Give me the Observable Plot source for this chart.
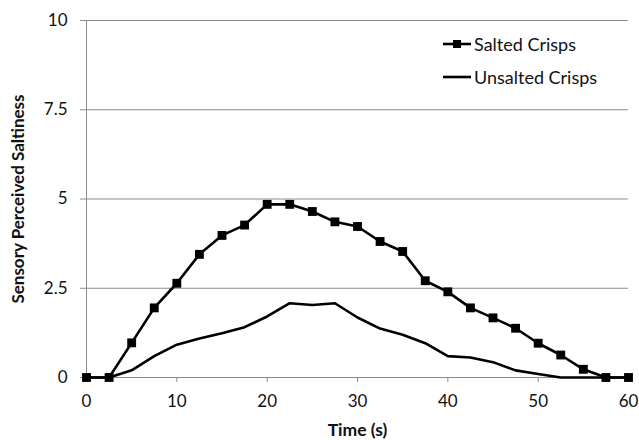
<!DOCTYPE html>
<html>
<head>
<meta charset="utf-8">
<script src="https://cdn.jsdelivr.net/npm/d3@7"></script>
<script src="https://cdn.jsdelivr.net/npm/@observablehq/plot@0.6"></script>
<style>
  body { margin: 0; background: #fff; }
  #wrap { position: relative; width: 639px; height: 440px; font-family: Lato, "Open Sans", sans-serif; }
  #legend { position: absolute; left: 443px; top: 27px; font-size: 18px; color: #111; }
  #legend div { display: flex; align-items: center; height: 33px; }
  #legend svg { margin-right: 3px; }
</style>
</head>
<body>
<div id="wrap"></div>
<script>
const time = [0, 2.5, 5, 7.5, 10, 12.5, 15, 17.5, 20, 22.5, 25, 27.5, 30, 32.5, 35, 37.5, 40, 42.5, 45, 47.5, 50, 52.5, 55, 57.5, 60];
const salted = [0, 0, 0.97, 1.95, 2.64, 3.45, 3.98, 4.27, 4.85, 4.85, 4.65, 4.36, 4.23, 3.81, 3.53, 2.71, 2.4, 1.95, 1.67, 1.38, 0.96, 0.63, 0.23, 0, 0];
const unsalted = [0, 0, 0.2, 0.6, 0.92, 1.09, 1.24, 1.41, 1.71, 2.08, 2.03, 2.08, 1.68, 1.37, 1.2, 0.96, 0.6, 0.56, 0.43, 0.2, 0.1, 0, 0, 0, 0];
const xTicks = [0, 10, 20, 30, 40, 50, 60];
const yTicks = [0, 2.5, 5, 7.5, 10];
const seriesNames = ["Salted Crisps", "Unsalted Crisps"];

const saltedData = time.map((t, i) => ({t, v: salted[i]}));
const unsaltedData = time.map((t, i) => ({t, v: unsalted[i]}));

const grey = "#8c8c8c";
const chart = Plot.plot({
  width: 639,
  height: 440,
  marginLeft: 86,
  marginRight: 11,
  marginTop: 20,
  marginBottom: 63,
  style: {fontFamily: "Lato, 'Open Sans', sans-serif", fontSize: "17px", color: "#111", background: "#fff"},
  x: {domain: [0, 60], label: null},
  y: {domain: [0, 10], label: null},
  marks: [
    Plot.gridY(yTicks, {stroke: grey, strokeOpacity: 1, strokeWidth: 1}),
    Plot.ruleX([0], {stroke: grey, strokeWidth: 1}),
    Plot.ruleY([0], {stroke: grey, strokeWidth: 1}),
    Plot.axisY(yTicks, {tickSize: 6, tickPadding: 13, stroke: grey, fill: "#111", fontSize: 17, tickFormat: d => String(d)}),
    Plot.axisX(xTicks, {tickSize: 5, tickPadding: 12, stroke: grey, fill: "#111", fontSize: 17, tickFormat: d => String(d)}),
    Plot.line(unsaltedData, {x: "t", y: "v", stroke: "#000", strokeWidth: 2.6}),
    Plot.line(saltedData, {x: "t", y: "v", stroke: "#000", strokeWidth: 2.6}),
    Plot.dot(saltedData, {x: "t", y: "v", symbol: "square", r: 5, fill: "#000", stroke: "none"}),
    Plot.text(["Time (s)"], {frameAnchor: "bottom", dy: 58, fontWeight: "bold", fontSize: 17.5, fill: "#111"}),
    Plot.text(["Sensory Perceived Saltiness"], {frameAnchor: "left", textAnchor: "middle", dx: -68, rotate: -90, fontWeight: "bold", fontSize: 17, fill: "#111"})
  ]
});

const wrap = document.getElementById("wrap");
wrap.appendChild(chart);

const legend = document.createElement("div");
legend.id = "legend";
legend.innerHTML = `
  <div><svg width="28" height="10"><line x1="0" y1="5" x2="28" y2="5" stroke="#000" stroke-width="2.6"/><rect x="10" y="1" width="8" height="8" fill="#000"/></svg><span>${seriesNames[0]}</span></div>
  <div><svg width="28" height="10"><line x1="0" y1="5" x2="28" y2="5" stroke="#000" stroke-width="2.6"/></svg><span>${seriesNames[1]}</span></div>`;
wrap.appendChild(legend);
</script>
</body>
</html>
